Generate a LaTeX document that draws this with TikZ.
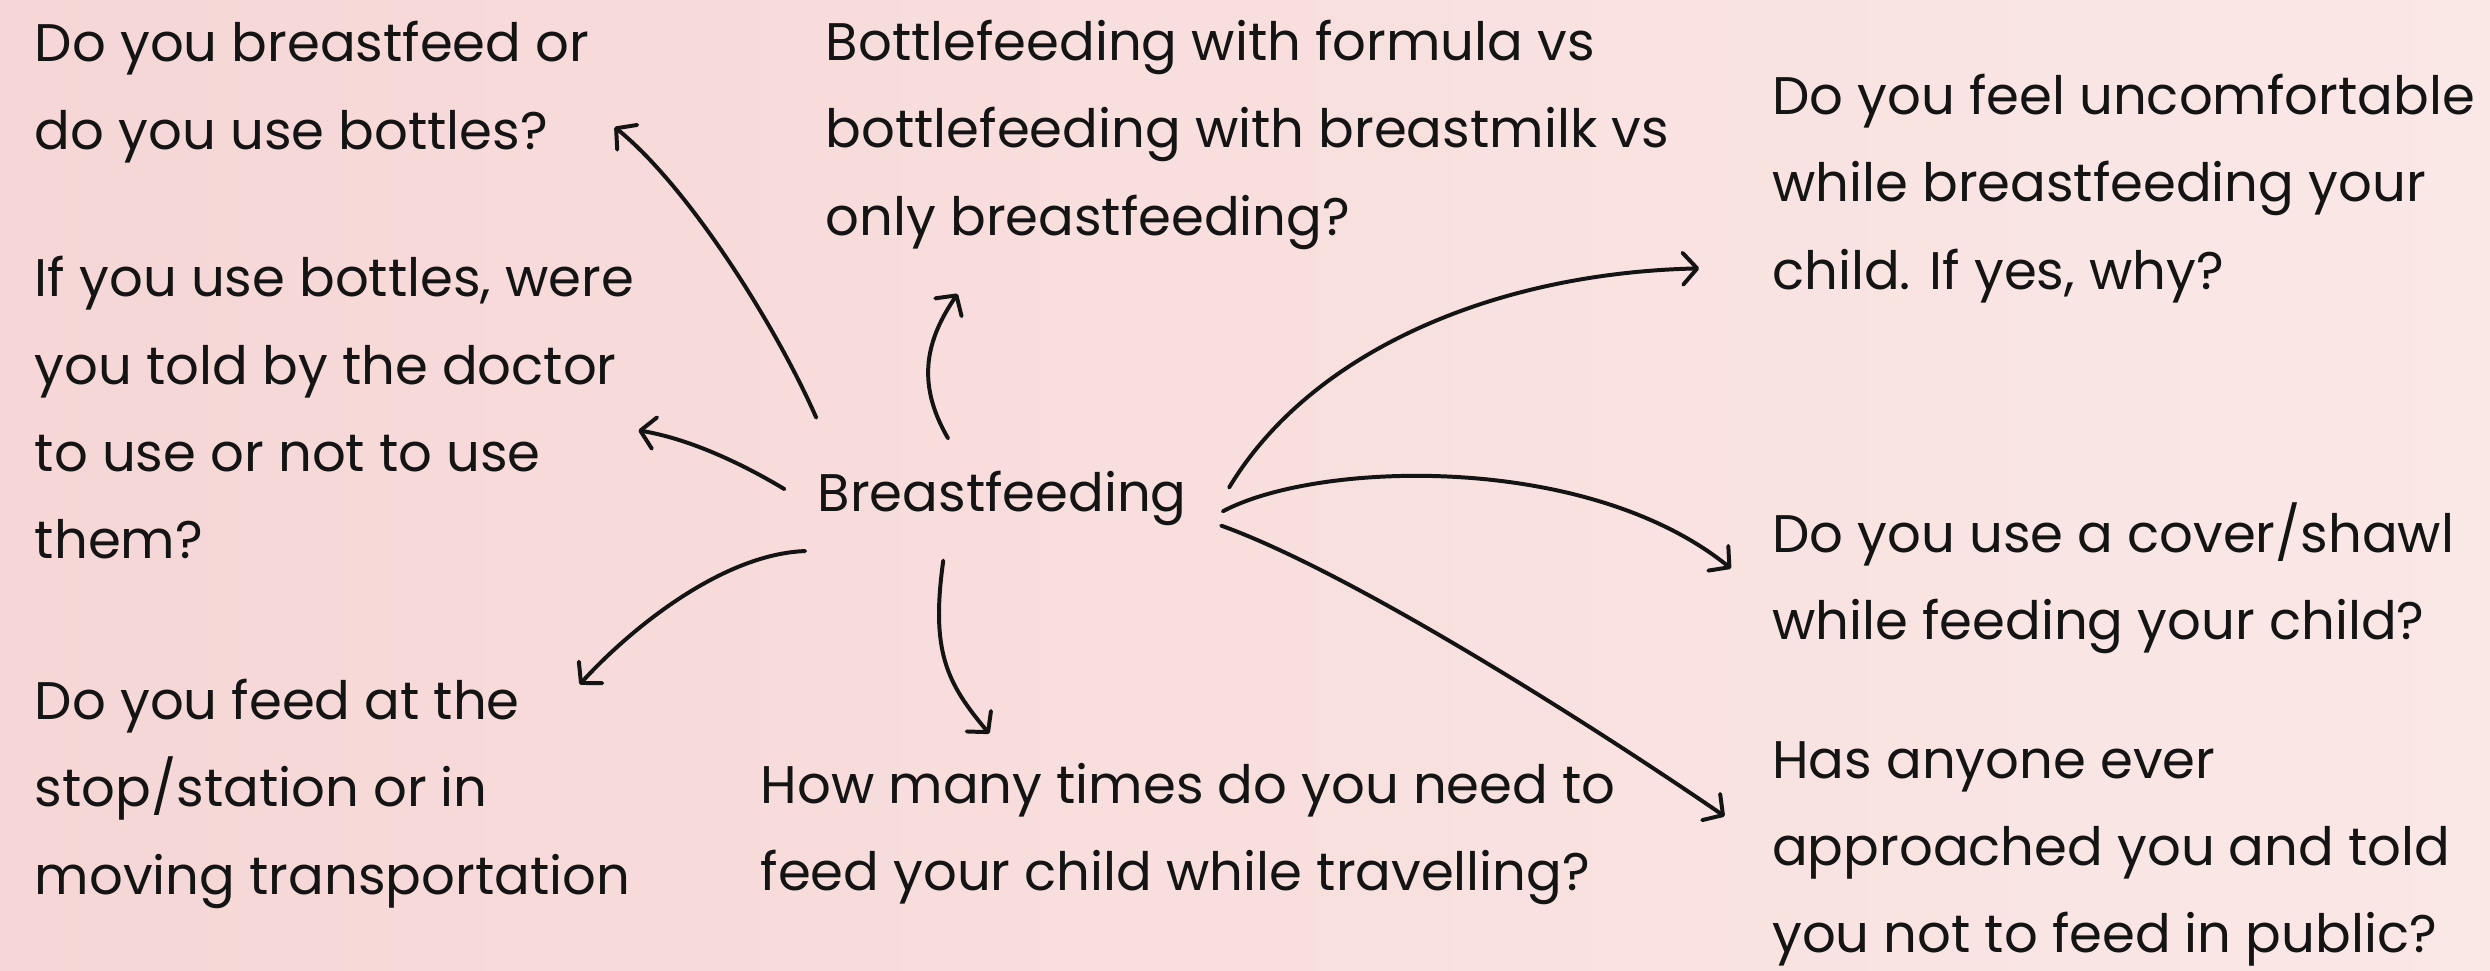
\documentclass[tikz,border=0pt]{standalone}
\usepackage{fontspec}
\usepackage{graphicx}
\setmainfont{Poppins}
\usetikzlibrary{arrows.meta}
\definecolor{bgL}{RGB}{246,214,214}
\definecolor{bgR}{RGB}{250,232,230}
\definecolor{ink}{RGB}{20,20,20}
\newcommand\qlines[1]{\begin{tabular}[t]{@{}l@{}}#1\end{tabular}}
\tikzset{
  qtext/.style={anchor=base west, inner sep=0pt, outer sep=0pt, text=ink, font=\fontsize{33.3}{55}\selectfont},
  conn/.style={draw=ink, line width=2.5pt, line cap=round, -{Straight Barb[length=9pt,width=20pt,round]}},
}
\begin{document}
\begin{tikzpicture}[x=1pt,y=-1pt]
\shade[left color=bgL,right color=bgR] (0,0) rectangle (1568,611);
\useasboundingbox (0,0) rectangle (1568,611);

\node[qtext] (qA) at (22,39) {\qlines{Do you breastfeed or\\do you use bottles?}};
\node[qtext] (qB) at (22,187) {\qlines{If you use bottles, were\\you told by the doctor\\to use or not to use\\them?}};
\node[qtext] (qC) at (22,453) {\qlines{Do you feed at the\\stop/station or in\\moving transportation}};
\node[qtext] (qD) at (520,38) {\qlines{Bottlefeeding with formula vs\\bottlefeeding with breastmilk vs\\only breastfeeding?}};
\node[qtext] (qE) at (1116,72) {\qlines{Do you feel uncomfortable\\while breastfeeding your\\child. If yes, why?}};
\node[qtext] (qF) at (1116,348) {\qlines{Do you use a cover/shawl\\while feeding your child?}};
\node[qtext] (qG) at (1116,490) {\qlines{Has anyone ever\\approached you and told\\you not to feed in public?}};
\node[qtext] (qH) at (479,506) {\qlines{How many times do you need to\\feed your child while travelling?}};
\node[qtext] (bf) at (515,322) {Breastfeeding};

% arrow end points
\coordinate (s1) at (514,263); \coordinate (e1) at (387,80);
\coordinate (s2) at (597,276); \coordinate (e2) at (603,185);
\coordinate (s3) at (494,308); \coordinate (e3) at (402,271);
\coordinate (s4) at (507,347); \coordinate (e4) at (365,431);
\coordinate (s5) at (594,353); \coordinate (e5) at (623,462);
\coordinate (s6) at (774,307); \coordinate (e6) at (1070,169);
\coordinate (s7) at (770,322); \coordinate (e7) at (1090,358);
\coordinate (s8) at (769,331); \coordinate (e8) at (1086,514);

\draw[conn] (s1) .. controls (489,206) and (434,118) .. (e1);
\draw[conn] (s2) .. controls (576,240) and (584,213) .. (e2);
\draw[conn] (s3) .. controls (464,290) and (432,276) .. (e3);
\draw[conn] (s4) .. controls (454,349) and (396,397) .. (e4);
\draw[conn] (s5) .. controls (586,410) and (596,430) .. (e5);
\draw[conn] (s6) .. controls (825,222) and (940,172) .. (e6);
\draw[conn] (s7) .. controls (830,290) and (1000,285) .. (e7);
\draw[conn] (s8) .. controls (850,360) and (1000,455) .. (e8);
\end{tikzpicture}
\end{document}
